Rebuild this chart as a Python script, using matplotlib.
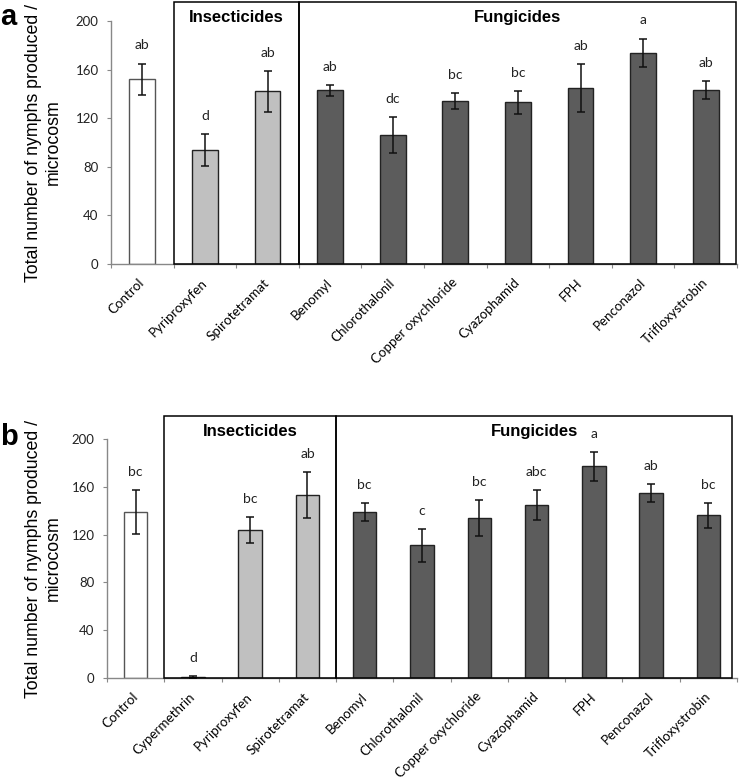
import matplotlib
matplotlib.use("Agg")
import matplotlib.pyplot as plt
from matplotlib.patches import Rectangle

# ---------------- data ----------------
cats_a = ["Control", "Pyriproxyfen", "Spirotetramat", "Benomyl", "Chlorothalonil",
          "Copper oxychloride", "Cyazophamid", "FPH", "Penconazol", "Trifloxystrobin"]
mean_a = [152, 94, 142, 143, 106, 134, 133, 145, 174, 143]
err_a = [13, 13, 17, 4.5, 15, 6.5, 9.5, 19.5, 11.5, 7.5]
letters_a = ["ab", "d", "ab", "ab", "dc", "bc", "bc", "ab", "a", "ab"]
group_a = ["control", "ins", "ins", "fun", "fun", "fun", "fun", "fun", "fun", "fun"]

cats_b = ["Control", "Cypermethrin", "Pyriproxyfen", "Spirotetramat", "Benomyl",
          "Chlorothalonil", "Copper oxychloride", "Cyazophamid", "FPH", "Penconazol",
          "Trifloxystrobin"]
mean_b = [139, 1, 124, 153, 139, 111, 134, 145, 177, 155, 136]
err_b = [18.7, 0.8, 10.7, 19.2, 7.7, 13.8, 15.3, 12.4, 12.1, 7.6, 10.8]
letters_b = ["bc", "d", "bc", "ab", "bc", "c", "bc", "abc", "a", "ab", "bc"]
group_b = ["control", "ins", "ins", "ins", "fun", "fun", "fun", "fun", "fun", "fun", "fun"]

yticks = [0, 40, 80, 120, 160, 200]

colors = {"control": "#ffffff", "ins": "#c0c0c0", "fun": "#5c5c5c"}
edges = {"control": "#555555", "ins": "#222222", "fun": "#222222"}

TICKFONT = ["Lato", "DejaVu Sans"]
LABFONT = ["Liberation Sans", "DejaVu Sans"]

W, H = 739, 779
fig = plt.figure(figsize=(W / 100, H / 100), dpi=100)


def panel(rect_px, cats, means, errs, letters, groups, n_ins, box_top, box_right_trim,
          title_y, panel_letter, letter_px):
    x0, y0, x1, y1 = rect_px  # pixel coords (left, top, right, bottom)
    ax = fig.add_axes([x0 / W, 1 - y1 / H, (x1 - x0) / W, (y1 - y0) / H])
    n = len(cats)
    xs = list(range(n))
    ax.bar(xs, means, width=0.41,
           color=[colors[g] for g in groups],
           edgecolor=[edges[g] for g in groups], linewidth=1.0, zorder=2)
    ax.errorbar(xs, means, yerr=errs, fmt="none", ecolor="#111111",
                elinewidth=1.1, capsize=3, capthick=1.1, zorder=3)
    for x, m, e, l in zip(xs, means, errs, letters):
        ax.text(x, m + e + 15, l, ha="center", va="center", fontsize=10,
                family=TICKFONT, color="#222222")
    ax.set_xlim(-0.5, n - 0.5)
    ax.set_ylim(0, 200)
    ax.set_yticks(yticks)
    ax.set_yticklabels([str(v) for v in yticks], family=TICKFONT, fontsize=9.5)
    ax.set_xticks([k - 0.5 for k in range(n + 1)])
    ax.set_xticklabels([])
    ax.set_xticks(xs, minor=True)
    ax.set_xticklabels(cats, minor=True, rotation=45, ha="right", va="center",
                       rotation_mode="anchor", family=TICKFONT, fontsize=9.6)
    ax.tick_params(axis="x", which="major", length=3, color="#888888", direction="out")
    ax.tick_params(axis="x", which="minor", length=0, pad=12)
    ax.tick_params(axis="y", length=3, color="#888888", pad=6, labelcolor="#222222")
    for s in ["top", "right"]:
        ax.spines[s].set_visible(False)
    for s in ["left", "bottom"]:
        ax.spines[s].set_color("#888888")
        ax.spines[s].set_linewidth(1.0)
    # group boxes
    ins_start, ins_end = 0.5, 0.5 + n_ins
    ax.add_patch(Rectangle((ins_start, 0), ins_end - ins_start, box_top, fill=False,
                           edgecolor="black", linewidth=1.1, clip_on=False, zorder=4))
    fun_end = n - 0.5 - box_right_trim
    ax.add_patch(Rectangle((ins_end, 0), fun_end - ins_end, box_top, fill=False,
                           edgecolor="black", linewidth=1.1, clip_on=False, zorder=4))
    ax.text((ins_start + ins_end) / 2, title_y, "Insecticides", ha="center", va="center",
            fontsize=12, fontweight="bold", family=LABFONT)
    ax.text((ins_end + fun_end) / 2, title_y, "Fungicides", ha="center", va="center",
            fontsize=12, fontweight="bold", family=LABFONT)
    # y label
    cy = (y0 + y1) / 2
    fig.text(43 / W, 1 - cy / H, "Total number of nymphs produced /\nmicrocosm",
             rotation=90, ha="center", va="center", multialignment="center",
             fontsize=12.8, family=LABFONT, linespacing=1.2)
    fig.text(letter_px[0] / W, 1 - letter_px[1] / H, panel_letter, ha="left", va="center",
             fontsize=21, fontweight="bold", family=LABFONT)
    return ax


panel((111, 21, 737, 264), cats_a, mean_a, err_a, letters_a, group_a, 2,
      215.5, 0.02, 203, "a", (0, 17))
panel((107, 439, 737, 678), cats_b, mean_b, err_b, letters_b, group_b, 3,
      219, 0.08, 206, "b", (0, 437))

fig.savefig("out.png", dpi=100, facecolor="white")
